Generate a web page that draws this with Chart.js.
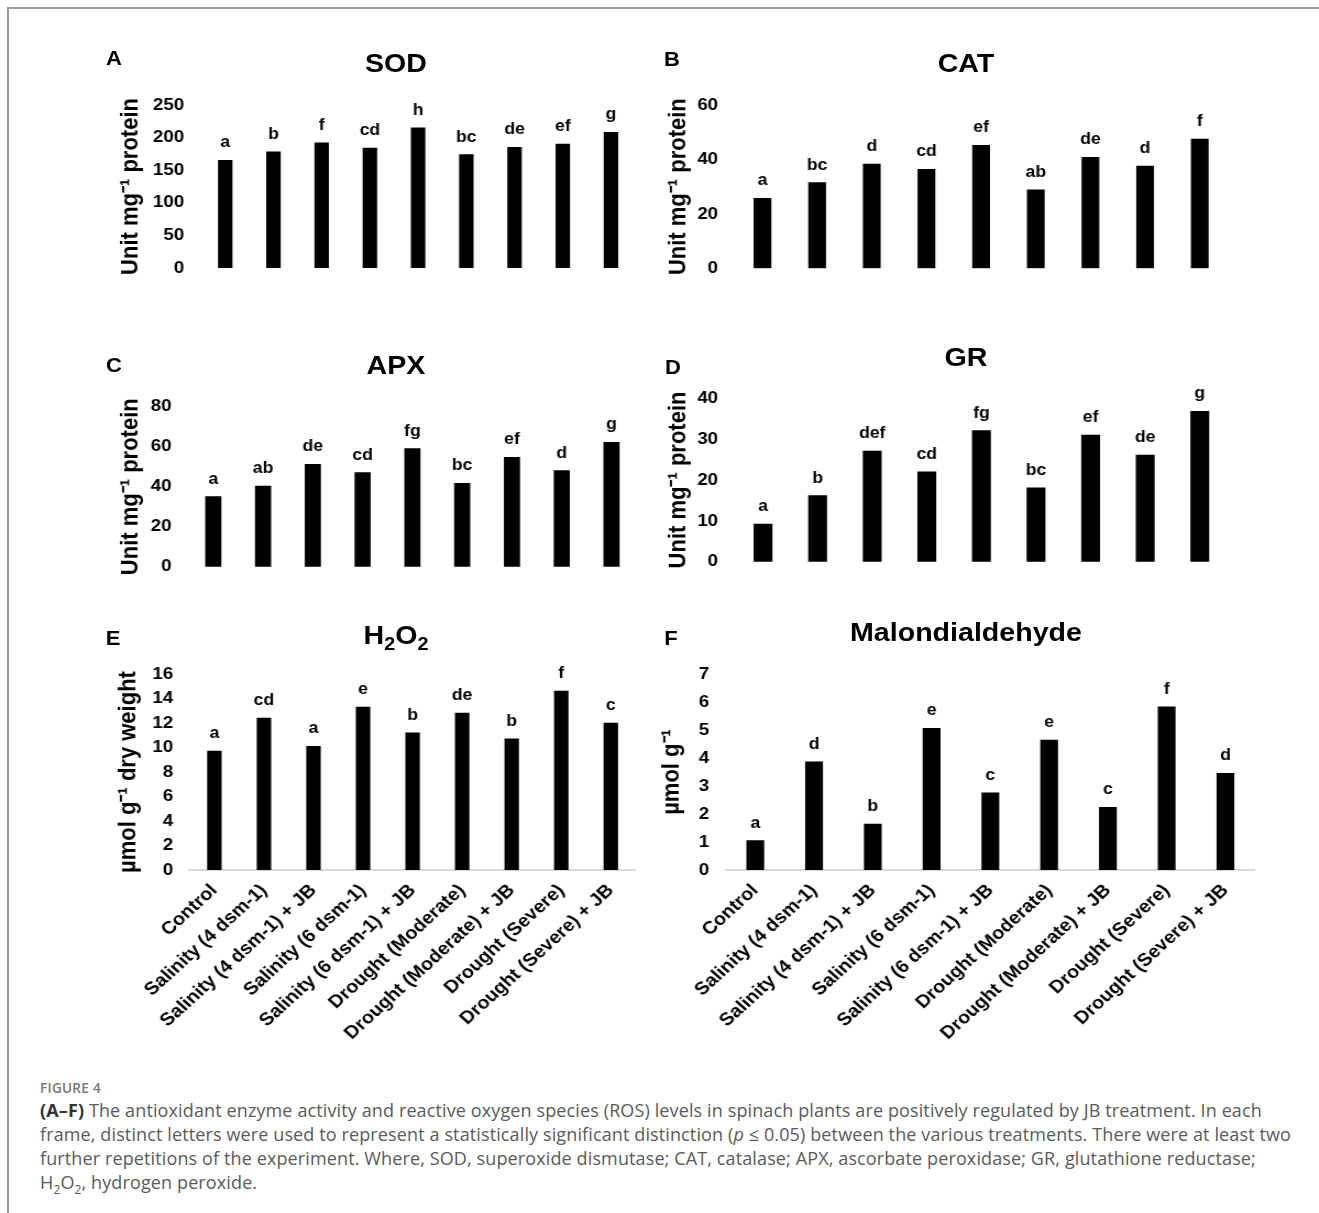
<!DOCTYPE html>
<html>
<head>
<meta charset="utf-8">
<script src="https://cdn.jsdelivr.net/npm/chart.js@4.4.1/dist/chart.umd.min.js"></script>
<style>
    body { margin: 0; background: #fff; width: 1319px; height: 1213px; overflow: hidden; position: relative; }
    .frame { position: absolute; left: 7px; top: 7px; right: -10px; bottom: -10px; border-top: 2px solid #9a9a9a; border-left: 2px solid #9a9a9a; }
    /* the original figure is a little stretched sideways */
    #figure { position: absolute; left: 0; top: 0; width: 1200px; height: 1070px; transform-origin: 0 0; }
    #figure canvas { position: absolute; }
    .panel-letter { position: absolute; font: bold 20px "Liberation Sans", Arial, sans-serif; line-height: 1; color: #000; transform: translate(-50%, -50%); white-space: nowrap; }
    .panel-title { position: absolute; font: bold 26px "Liberation Sans", Arial, sans-serif; line-height: 1; color: #000; transform: translate(-50%, -50%); white-space: nowrap; }
    .panel-title sub { font-size: 18px; line-height: 0; }
    .fig-label { position: absolute; left: 40px; top: 1079px; font: 600 13.5px "Open Sans", sans-serif; color: #777; letter-spacing: 0.3px; }
    .caption { position: absolute; left: 40px; top: 1098px; font: 18px "Open Sans", sans-serif; line-height: 24px; color: #5a5a5a; white-space: nowrap; letter-spacing: 0.12px; }
    .caption b { color: #333; }
    .caption sub { font-size: 12px; line-height: 0; }
</style>
</head>
<body>
<div class="frame"></div>
<div id="figure"></div>

<div class="fig-label">FIGURE 4</div>
<div class="caption"><b>(A–F)</b> The antioxidant enzyme activity and reactive oxygen species (ROS) levels in spinach plants are positively regulated by JB treatment. In each<br>frame, distinct letters were used to represent a statistically significant distinction (<i>p</i> ≤ 0.05) between the various treatments. There were at least two<br>further repetitions of the experiment. Where, SOD, superoxide dismutase; CAT, catalase; APX, ascorbate peroxidase; GR, glutathione reductase;<br>H<sub>2</sub>O<sub>2</sub>, hydrogen peroxide.</div>

<script>
const categories = ['Control', 'Salinity (4 dsm-1)', 'Salinity (4 dsm-1) + JB', 'Salinity (6 dsm-1)', 'Salinity (6 dsm-1) + JB',
    'Drought (Moderate)', 'Drought (Moderate) + JB', 'Drought (Severe)', 'Drought (Severe) + JB'];

const sodValues = [165, 178, 192, 184, 215, 174, 185, 190, 208];
const sodLetters = ['a', 'b', 'f', 'cd', 'h', 'bc', 'de', 'ef', 'g'];

const catValues = [25.7, 31.5, 38.3, 36.4, 45.2, 28.8, 40.8, 37.6, 47.5];
const catLetters = ['a', 'bc', 'd', 'cd', 'ef', 'ab', 'de', 'd', 'f'];

const apxValues = [35, 40.3, 51.2, 47, 59, 41.7, 54.7, 48, 62.2];
const apxLetters = ['a', 'ab', 'de', 'cd', 'fg', 'bc', 'ef', 'd', 'g'];

const grValues = [9.2, 16.2, 27.1, 22, 32.1, 18.1, 31, 26.1, 36.8];
const grLetters = ['a', 'b', 'def', 'cd', 'fg', 'bc', 'ef', 'de', 'g'];

const h2o2Values = [9.7, 12.4, 10.1, 13.3, 11.2, 12.8, 10.7, 14.6, 12];
const h2o2Letters = ['a', 'cd', 'a', 'e', 'b', 'de', 'b', 'f', 'c'];

const mdaValues = [1.05, 3.86, 1.64, 5.06, 2.76, 4.64, 2.24, 5.83, 3.45];
const mdaLetters = ['a', 'd', 'b', 'e', 'c', 'e', 'c', 'f', 'd'];

const fontFamily = '"Liberation Sans", Arial, sans-serif';
Chart.defaults.font.family = fontFamily;
Chart.defaults.color = '#000';

const stretch = 1.1;
const yTitleSize = 22;
const figure = document.getElementById('figure');
figure.style.transform = 'scaleX(' + stretch + ')';

// letters of significance above each bar
const letterPlugin = {
    id: 'letters',
    afterDatasetsDraw(chart, args, opts) {
        const ctx = chart.ctx;
        const meta = chart.getDatasetMeta(0);
        ctx.save();
        ctx.font = 'bold 16px ' + fontFamily;
        ctx.fillStyle = '#000';
        ctx.textAlign = 'center';
        ctx.textBaseline = 'alphabetic';
        meta.data.forEach((bar, i) => {
            ctx.fillText(opts.labels[i] || '', bar.x, bar.y - 13);
        });
        ctx.restore();
    }
};

function addText(cls, html, x, y) {
    const el = document.createElement('div');
    el.className = cls;
    el.innerHTML = html;
    el.style.left = (x / stretch) + 'px';
    el.style.top = y + 'px';
    figure.appendChild(el);
}

// box = canvas position on the page, area = wanted plot area on the page (page px)
// box has to leave ~30px above and below the area for the end tick labels
function buildPanel(p) {
    const box = p.box, area = p.area;
    const toC = x => (x - box.left) / stretch;

    const canvas = document.createElement('canvas');
    canvas.id = p.id;
    canvas.width = Math.round(box.width / stretch);
    canvas.height = box.height;
    canvas.style.left = (box.left / stretch) + 'px';
    canvas.style.top = box.top + 'px';
    figure.appendChild(canvas);

    addText('panel-letter', p.letter, p.letterX, p.letterY);
    addText('panel-title', p.title, p.titleX, p.titleY);

    return new Chart(canvas.getContext('2d'), {
        type: 'bar',
        data: {
            labels: categories,
            datasets: [{
                data: p.values,
                backgroundColor: '#000',
                barThickness: p.barWidth
            }]
        },
        options: {
            responsive: false,
            animation: false,
            devicePixelRatio: 1,
            layout: {
                padding: {
                    left: 0,
                    top: area.top - box.top,
                    right: canvas.width - toC(area.right),
                    bottom: 0
                }
            },
            plugins: {
                legend: { display: false },
                tooltip: { enabled: false },
                title: { display: false },
                letters: { labels: p.letters }
            },
            scales: {
                x: {
                    grid: { display: false, drawTicks: false },
                    border: { display: p.showX, color: '#d9d9d9', width: 2 },
                    ticks: {
                        display: p.showX,
                        autoSkip: false,
                        maxRotation: 45,
                        minRotation: 45,
                        padding: 10,
                        color: '#000',
                        font: { size: 18, weight: 'bold' }
                    },
                    afterFit: (scale) => { scale.height = box.top + box.height - area.bottom; }
                },
                y: {
                    min: 0,
                    max: p.yMax,
                    grid: { display: false, drawTicks: false },
                    border: { display: false },
                    ticks: {
                        stepSize: p.yStep,
                        padding: toC(area.left) - toC(p.tickRight),
                        color: '#000',
                        font: { size: 17, weight: 'bold' }
                    },
                    title: {
                        display: true,
                        text: p.yTitle,
                        color: '#000',
                        font: { size: yTitleSize, weight: 'bold' },
                        padding: { top: toC(p.yTitleX) - yTitleSize * 0.6, bottom: 0 }
                    },
                    afterFit: (scale) => { scale.width = toC(area.left); }
                }
            }
        },
        plugins: [letterPlugin]
    });
}

//SOD
buildPanel({
    id: 'sodChart', letter: 'A', title: 'SOD', yTitle: 'Unit mg⁻¹ protein',
    values: sodValues, letters: sodLetters, yMax: 250, yStep: 50, barWidth: 12.5,
    box: { left: 100, top: 70, width: 545, height: 230 },
    area: { left: 201, top: 105, right: 635, bottom: 268 },
    letterX: 114, letterY: 58, titleX: 396, titleY: 63,
    yTitleX: 131, tickRight: 184, showX: false
});

//CAT
buildPanel({
    id: 'catChart', letter: 'B', title: 'CAT', yTitle: 'Unit mg⁻¹ protein',
    values: catValues, letters: catLetters, yMax: 60, yStep: 20, barWidth: 15.5,
    box: { left: 650, top: 70, width: 600, height: 230 },
    area: { left: 735, top: 105, right: 1227, bottom: 268.3 },
    letterX: 672, letterY: 59, titleX: 966, titleY: 63,
    yTitleX: 679, tickRight: 718, showX: false
});

//APX
buildPanel({
    id: 'apxChart', letter: 'C', title: 'APX', yTitle: 'Unit mg⁻¹ protein',
    values: apxValues, letters: apxLetters, yMax: 80, yStep: 20, barWidth: 14,
    box: { left: 100, top: 360, width: 545, height: 240 },
    area: { left: 188.3, top: 406.7, right: 636.3, bottom: 566.7 },
    letterX: 114, letterY: 365, titleX: 396, titleY: 365,
    yTitleX: 131, tickRight: 171.5, showX: false
});

//GR
buildPanel({
    id: 'grChart', letter: 'D', title: 'GR', yTitle: 'Unit mg⁻¹ protein',
    values: grValues, letters: grLetters, yMax: 40, yStep: 10, barWidth: 16.5,
    box: { left: 650, top: 360, width: 600, height: 240 },
    area: { left: 735.6, top: 398.3, right: 1227, bottom: 561.7 },
    letterX: 673, letterY: 367, titleX: 966, titleY: 357,
    yTitleX: 679, tickRight: 718, showX: false
});

//H2O2
buildPanel({
    id: 'h2o2Chart', letter: 'E', title: 'H<sub>2</sub>O<sub>2</sub>', yTitle: 'µmol g⁻¹ dry weight',
    values: h2o2Values, letters: h2o2Letters, yMax: 16, yStep: 2, barWidth: 12.5,
    box: { left: 100, top: 642, width: 545, height: 413 },
    area: { left: 189.5, top: 674, right: 635.5, bottom: 870 },
    letterX: 113, letterY: 638, titleX: 396, titleY: 635,
    yTitleX: 129, tickRight: 173, showX: true
});

//Malondialdehyde
buildPanel({
    id: 'mdaChart', letter: 'F', title: 'Malondialdehyde', yTitle: 'µmol g⁻¹',
    values: mdaValues, letters: mdaLetters, yMax: 7, yStep: 1, barWidth: 15.5,
    box: { left: 650, top: 642, width: 620, height: 413 },
    area: { left: 725.8, top: 674, right: 1254.7, bottom: 870 },
    letterX: 671, letterY: 638, titleX: 966, titleY: 632,
    yTitleX: 672, tickRight: 709, showX: true
});
</script>
</body>
</html>
